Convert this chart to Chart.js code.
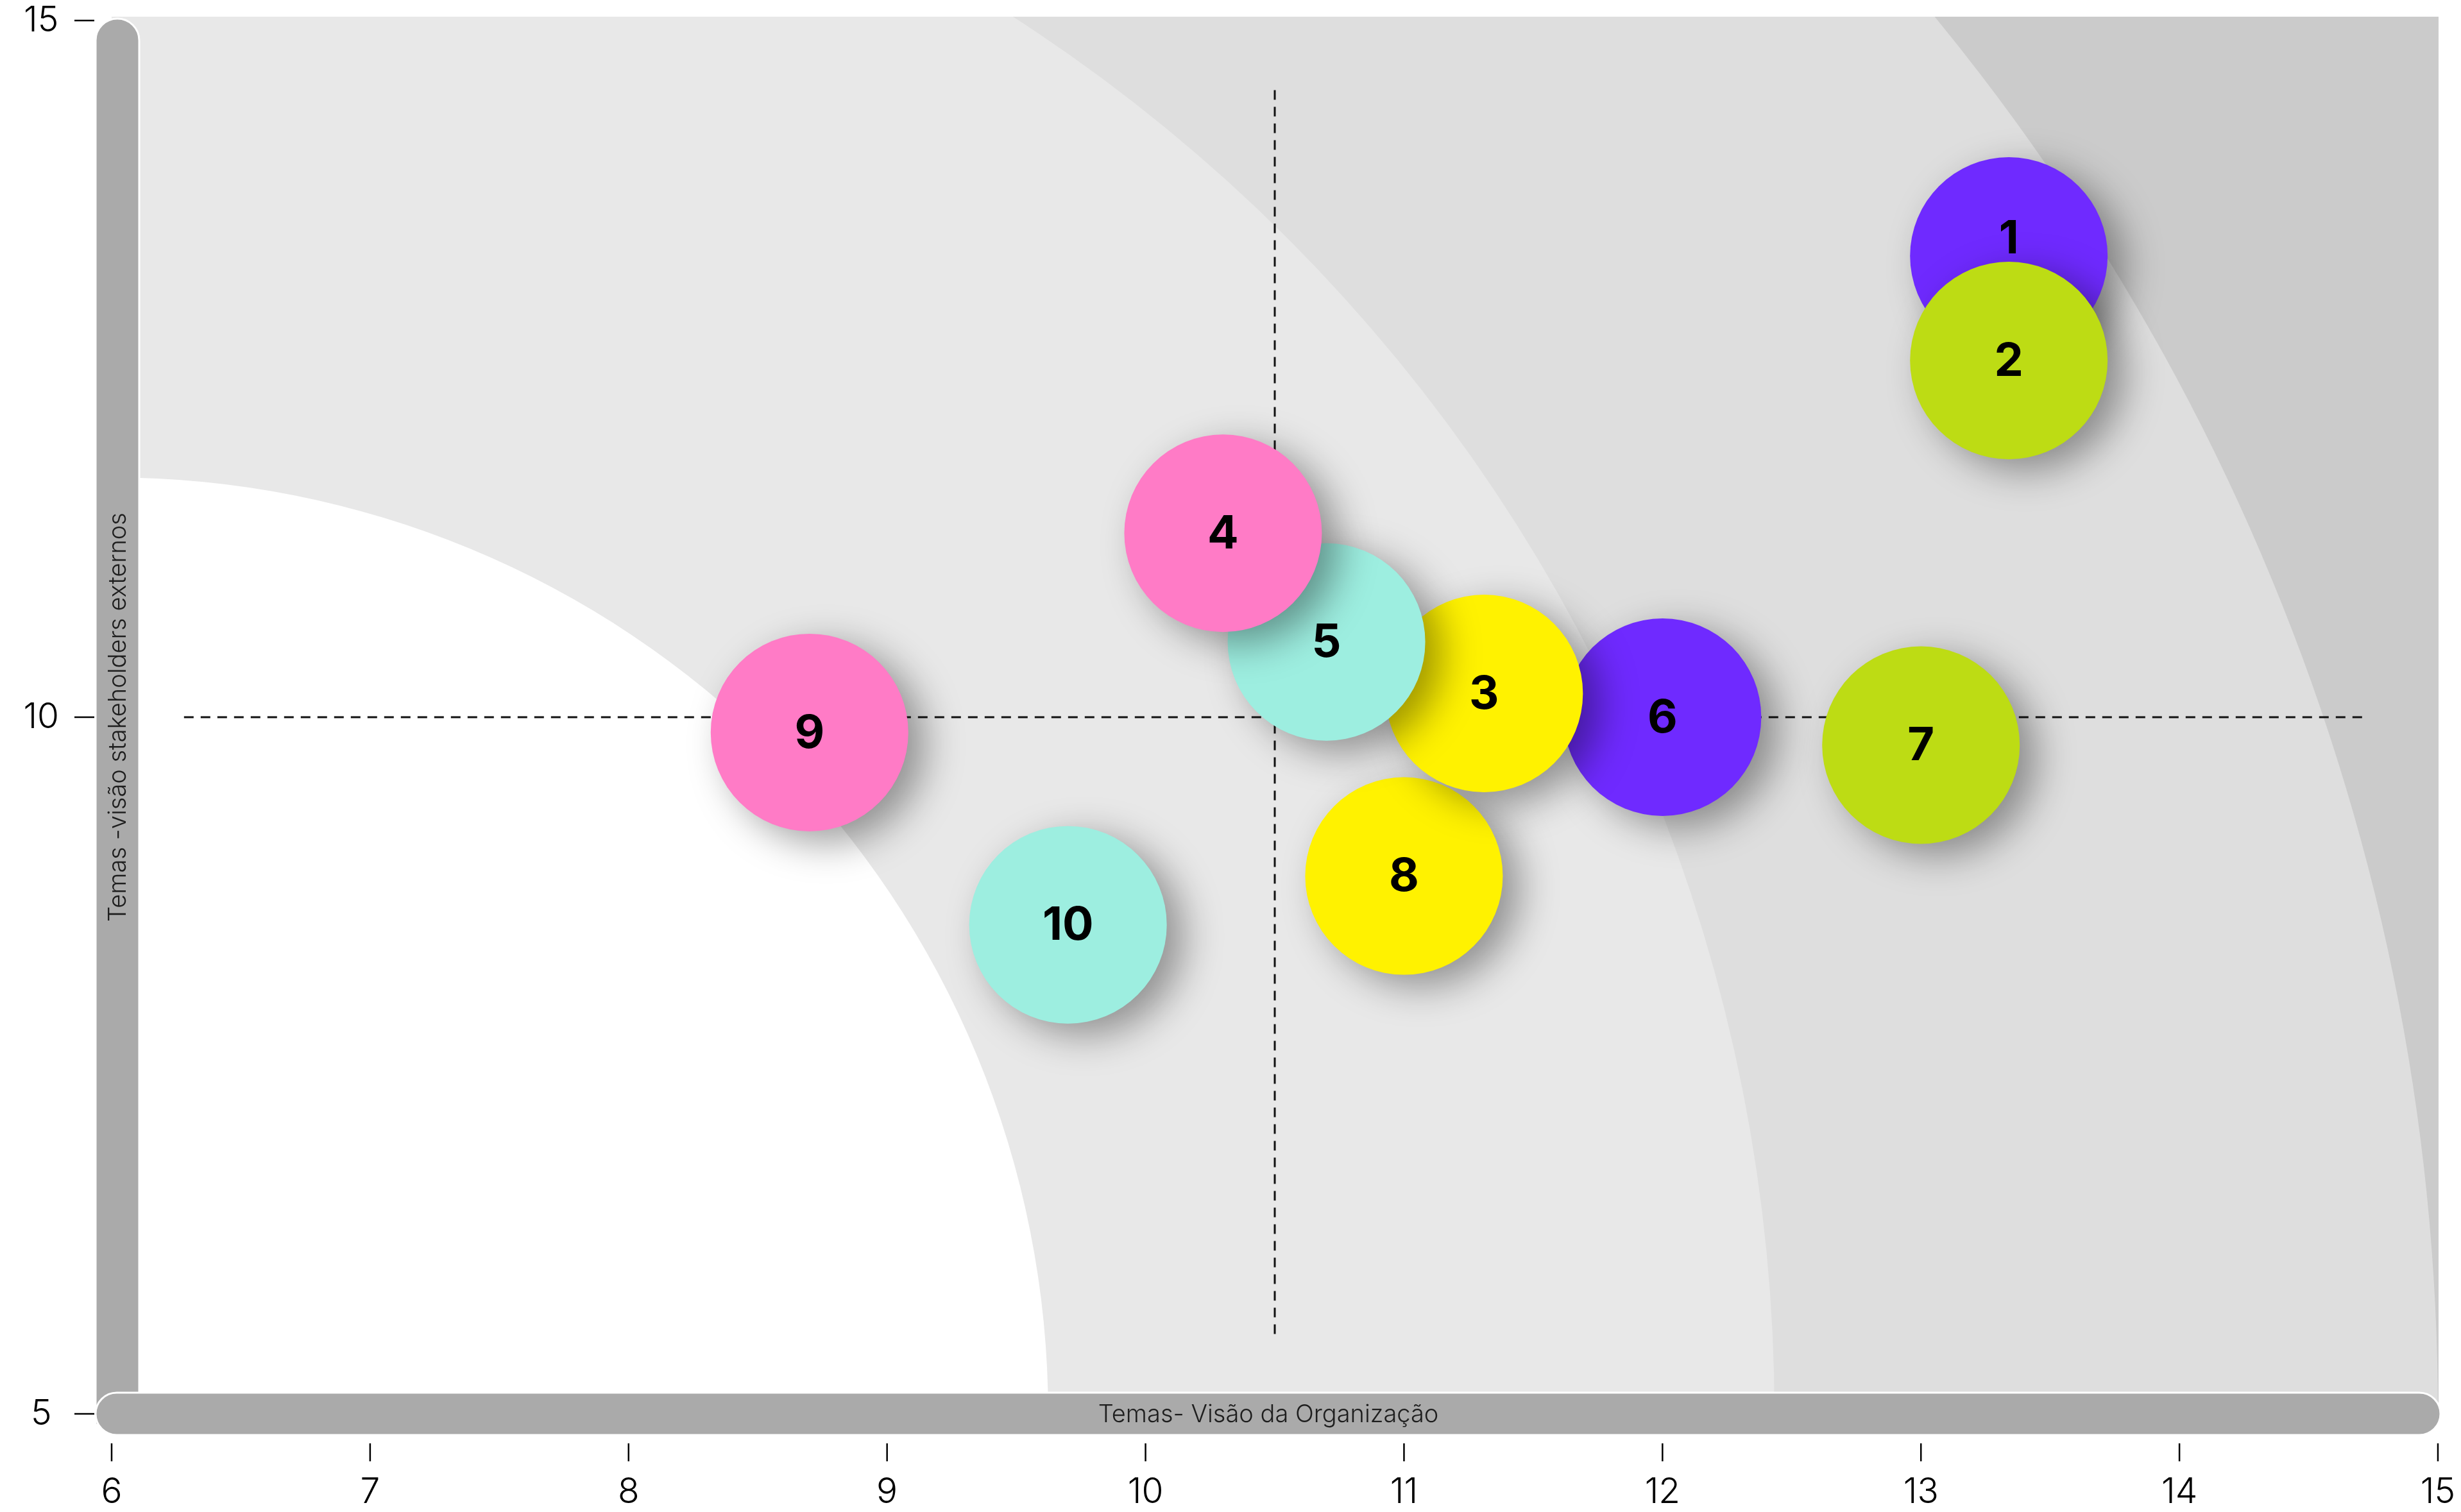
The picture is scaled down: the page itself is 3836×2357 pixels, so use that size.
<!DOCTYPE html>
<html lang="pt">
<head>
<meta charset="utf-8">
<title>Matriz de materialidade</title>
<script src="https://cdn.jsdelivr.net/npm/chart.js@4.4.1/dist/chart.umd.min.js"></script>
<style>
    html, body { margin: 0; padding: 0; background: #ffffff; }
    #caixa { width: 3836px; height: 2357px; }
    .pre-fonte { font-family: Inter; position: absolute; left: -9999px; }
</style>
</head>
<body>
<span class="pre-fonte" style="font-weight:300">Temas 0123</span>
<span class="pre-fonte" style="font-weight:700">0123</span>
<div id="caixa"><canvas id="matriz" width="3836" height="2357"></canvas></div>
<script>
// Temas e posições
const temas = ['1', '2', '3', '4', '5', '6', '7', '8', '9', '10'];
const visaoOrganizacao = [13.34, 13.34, 11.31, 10.3, 10.7, 12.0, 13.0, 11.0, 8.7, 9.7];
const visaoStakeholders = [13.31, 12.56, 10.17, 11.32, 10.54, 10.0, 9.8, 8.86, 9.89, 8.51];

// Escalas
const eixoXTicks = [6, 7, 8, 9, 10, 11, 12, 13, 14, 15];
const eixoYTicks = [5, 10, 15];

// Linhas tracejadas dos quadrantes
const linhaHorizontalX = [6.28, 14.72];
const linhaHorizontalY = [10, 10];
const linhaVerticalX = [10.5, 10.5];
const linhaVerticalY = [14.5, 5.55];

const tituloX = 'Temas- Visão da Organização';
const tituloY = 'Temas -visão stakeholders externos';

// Cores dos temas (mesma ordem de "temas")
const cores = ['#6f2aff', '#bddc14', '#fff200', '#ff7bc6', '#9deee0',
               '#6f2aff', '#bddc14', '#fff200', '#ff7bc6', '#9deee0'];

// Ordem de desenho: os últimos ficam por cima
const ordemDesenho = [0, 1, 5, 7, 2, 4, 3, 6, 8, 9];

const FONTE = 'Inter, "Noto Sans", sans-serif';

/**
 * Faixas de fundo, centradas no canto inferior esquerdo
 */
const fundoFaixas = {
    id: 'fundoFaixas',
    beforeDatasetsDraw(chart) {
        const { ctx, chartArea: a } = chart;
        const w = a.right - a.left;
        ctx.save();
        ctx.beginPath();
        ctx.rect(a.left, a.top - 6, w + 1, a.bottom - a.top + 6);
        ctx.clip();
        ctx.fillStyle = '#cbcbcb';
        ctx.fillRect(a.left, a.top - 6, w + 1, a.bottom - a.top + 6);
        // [raio horizontal, raio vertical] em fração da largura
        const faixas = [[1.0, 0.967, '#dedede'], [0.7148, 0.7148, '#e8e8e8'], [0.4026, 0.4026, '#ffffff']];
        faixas.forEach(([fx, fy, cor]) => {
            ctx.beginPath();
            ctx.moveTo(a.left, a.bottom);
            ctx.ellipse(a.left, a.bottom, fx * w, fy * w, 0, -Math.PI / 2, 0);
            ctx.closePath();
            ctx.fillStyle = cor;
            ctx.fill();
        });
        ctx.restore();

        // barras cinzentas dos eixos
        ctx.save();
        ctx.fillStyle = '#aaaaaa';
        ctx.strokeStyle = '#ffffff';
        ctx.lineWidth = 3;
        ctx.beginPath();
        ctx.roundRect(a.left - 25, a.top - 3, 68, a.bottom - a.top + 20, [34, 34, 0, 0]);
        ctx.fill();
        ctx.stroke();
        ctx.beginPath();
        ctx.roundRect(a.left - 25, a.bottom - 33, w + 29, 66, 33);
        ctx.fill();
        ctx.stroke();

        // títulos dos eixos dentro das barras
        ctx.fillStyle = '#1e1e1e';
        ctx.font = '300 38px ' + FONTE;
        ctx.textAlign = 'center';
        ctx.textBaseline = 'middle';
        ctx.fillText(tituloX, (a.left + a.right) / 2 - 10, a.bottom + 2);
        ctx.translate(a.left + 9, (a.top + a.bottom) / 2);
        ctx.rotate(-Math.PI / 2);
        ctx.fillText(tituloY, 0, 2);
        ctx.restore();
    },
    afterDraw(chart) {
        // marcas dos ticks, afastadas das barras
        const { ctx, chartArea: a, scales } = chart;
        ctx.save();
        ctx.strokeStyle = '#000000';
        ctx.lineWidth = 2.5;
        scales.x.ticks.forEach(t => {
            const px = scales.x.getPixelForValue(t.value);
            ctx.beginPath();
            ctx.moveTo(px, a.bottom + 46);
            ctx.lineTo(px, a.bottom + 74);
            ctx.stroke();
        });
        scales.y.ticks.forEach(t => {
            const py = scales.y.getPixelForValue(t.value);
            ctx.beginPath();
            ctx.moveTo(a.left - 58, py);
            ctx.lineTo(a.left - 27, py);
            ctx.stroke();
        });
        ctx.restore();
    }
};

/**
 * Sombra das bolhas e número do tema no centro
 */
const bolhas = {
    id: 'bolhas',
    beforeDatasetDraw(chart, args) {
        if (args.meta.type !== 'bubble') return;
        const ctx = chart.ctx;
        ctx.save();
        ctx.shadowColor = 'rgba(0, 0, 0, 0.38)';
        ctx.shadowBlur = 60;
        ctx.shadowOffsetX = 26;
        ctx.shadowOffsetY = 18;
    },
    afterDatasetDraw(chart, args) {
        if (args.meta.type !== 'bubble') return;
        const ctx = chart.ctx;
        ctx.restore();
        ctx.save();
        ctx.fillStyle = '#000000';
        ctx.font = '700 72px ' + FONTE;
        ctx.textAlign = 'center';
        ctx.textBaseline = 'middle';
        args.meta.data.forEach((el, i) => {
            const rotulo = args.meta._dataset.data[i].tema;
            const desvio = rotulo === '1' ? -28 : 0;
            ctx.fillText(rotulo, el.x, el.y + desvio + 2);
        });
        ctx.restore();
    }
};

function montarGrafico() {
    const pontos = ordemDesenho.map(i => ({
        x: visaoOrganizacao[i],
        y: visaoStakeholders[i],
        tema: temas[i]
    }));

    const tracejado = {
        type: 'line',
        borderColor: '#111111',
        borderWidth: 3,
        borderDash: [15, 11],
        pointRadius: 0,
        fill: false
    };

    new Chart(document.getElementById('matriz'), {
        data: {
            datasets: [
                Object.assign({ data: linhaHorizontalX.map((x, i) => ({ x, y: linhaHorizontalY[i] })), order: 3 }, tracejado),
                Object.assign({ data: linhaVerticalX.map((x, i) => ({ x, y: linhaVerticalY[i] })), order: 2 }, tracejado),
                {
                    type: 'bubble',
                    data: pontos,
                    radius: 154,
                    borderWidth: 0,
                    backgroundColor: ordemDesenho.map(i => cores[i]),
                    clip: false,
                    order: 1
                }
            ]
        },
        options: {
            responsive: false,
            devicePixelRatio: 1,
            animation: false,
            events: [],
            layout: { autoPadding: false, padding: { top: 32, right: 36, left: 0, bottom: 0 } },
            plugins: {
                legend: { display: false },
                tooltip: { enabled: false }
            },
            scales: {
                x: {
                    type: 'linear',
                    min: eixoXTicks[0],
                    max: eixoXTicks[eixoXTicks.length - 1],
                    afterBuildTicks: s => { s.ticks = eixoXTicks.map(v => ({ value: v })); },
                    afterFit: s => {
                        // área do gráfico fixa; o padding dos rótulos não a encolhe
                        s.height = 153;
                        s.paddingLeft = 0;
                        s.paddingRight = 0;
                    },
                    grid: { display: false, drawTicks: false },
                    border: { display: false },
                    ticks: {
                        padding: 95,
                        color: '#000000',
                        font: { family: FONTE, size: 55, weight: 300, lineHeight: 1 }
                    }
                },
                y: {
                    type: 'linear',
                    min: eixoYTicks[0],
                    max: eixoYTicks[eixoYTicks.length - 1],
                    afterBuildTicks: s => { s.ticks = eixoYTicks.map(v => ({ value: v })); },
                    afterFit: s => {
                        s.width = 174;
                        s.paddingTop = 0;
                        s.paddingBottom = 0;
                    },
                    grid: { display: false, drawTicks: false },
                    border: { display: false },
                    ticks: {
                        padding: 82,
                        crossAlign: 'center',
                        color: '#000000',
                        font: { family: FONTE, size: 55, weight: 300, lineHeight: 1 }
                    }
                }
            }
        },
        plugins: [fundoFaixas, bolhas]
    });
}

document.addEventListener('DOMContentLoaded', () => {
    document.fonts.ready.then(montarGrafico);
});
</script>
</body>
</html>
